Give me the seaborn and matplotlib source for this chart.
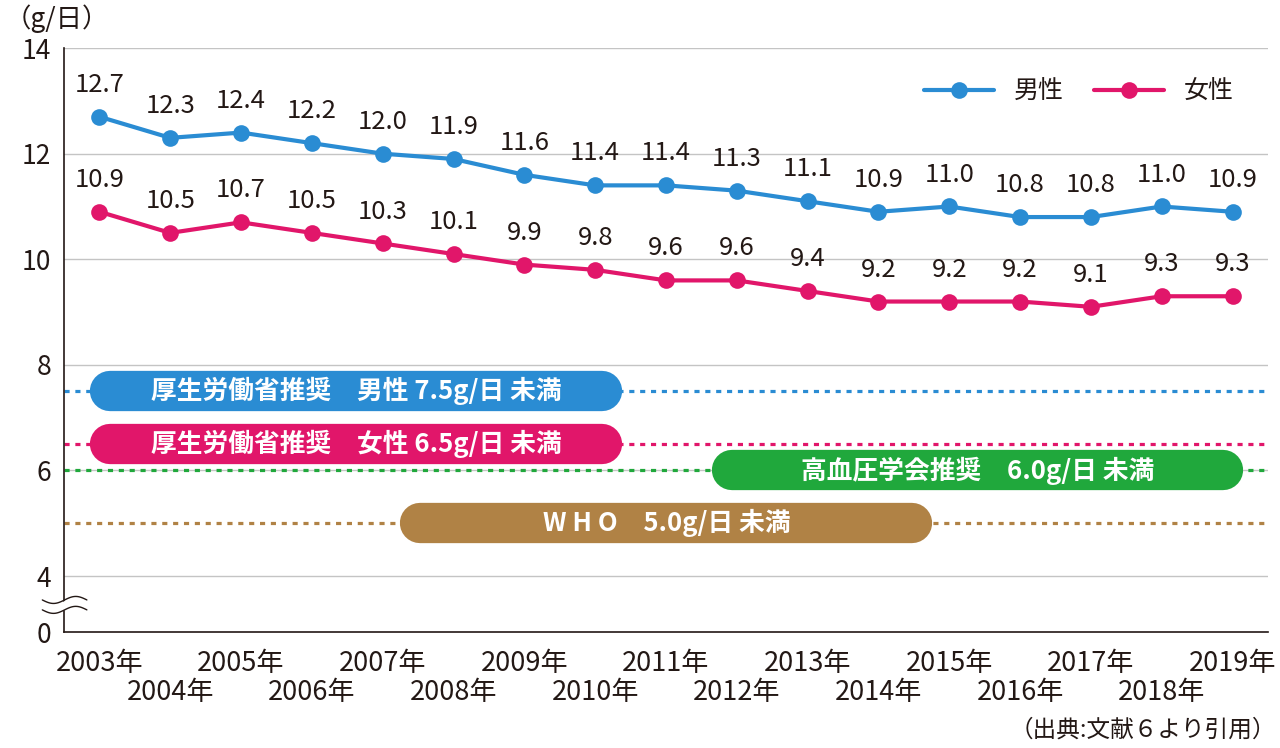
import numpy as np
import pandas as pd
import seaborn as sns
import matplotlib.pyplot as plt

years = list(range(2003, 2020))
men = [12.7, 12.3, 12.4, 12.2, 12.0, 11.9, 11.6, 11.4, 11.4, 11.3, 11.1, 10.9, 11.0, 10.8, 10.8, 11.0, 10.9]
women = [10.9, 10.5, 10.7, 10.5, 10.3, 10.1, 9.9, 9.8, 9.6, 9.6, 9.4, 9.2, 9.2, 9.2, 9.1, 9.3, 9.3]
series_names = ['男性', '女性']

# recommendation lines: value, label, pill start / end (in years)
rec_values = [7.5, 6.5, 6.0, 5.0]
rec_labels = ['厚生労働省推奨　男性 7.5g/日 未満',
              '厚生労働省推奨　女性 6.5g/日 未満',
              '高血圧学会推奨　6.0g/日 未満',
              'W H O　5.0g/日 未満']
rec_start = [2003.15, 2003.15, 2011.93, 2007.53]
rec_end = [2010.1, 2010.1, 2018.86, 2014.48]

BLUE = '#2a8cd3'
PINK = '#e1166a'
GREEN = '#20a83c'
BROWN = '#b08245'
TEXT = '#231815'
rec_colors = [BLUE, PINK, GREEN, BROWN]

sns.set_theme(style='white')
plt.rcParams['font.family'] = ['Noto Sans CJK JP', 'DejaVu Sans']
plt.rcParams['text.color'] = TEXT

df = pd.DataFrame({
    'year': years * 2,
    'value': men + women,
    'sex': [series_names[0]] * len(years) + [series_names[1]] * len(years),
})

fig = plt.figure(figsize=(12.8, 7.48), dpi=100)
ax = fig.add_axes([0.05, 0.155, 0.9406, 0.7807])

ybot = 2.94
ax.set_xlim(2002.5, 2019.5)
ax.set_ylim(ybot, 14)

# grid
for g in [4, 6, 8, 10, 12, 14]:
    ax.axhline(g, color='#c4c4c4', lw=1, zorder=0)

# dotted recommendation lines + pills
for v, lab, x0, x1, c in zip(rec_values, rec_labels, rec_start, rec_end, rec_colors):
    ax.axhline(v, color=c, lw=2.3, ls=(0, (1.6, 1.8)), zorder=1)
    ax.plot([x0, x1], [v, v], color=c, lw=29, solid_capstyle='round', zorder=2)
    ax.text((x0 + x1) / 2, v, lab, color='white', fontsize=18.5, fontweight='bold',
            ha='center', va='center', zorder=3)

sns.lineplot(data=df, x='year', y='value', hue='sex', palette=[BLUE, PINK],
             marker='o', markersize=12, markeredgewidth=0, linewidth=3,
             ax=ax, zorder=4)

for vals in [men, women]:
    for x, v in zip(years, vals):
        ax.annotate(f'{v:.1f}', (x, v), xytext=(0, 23), textcoords='offset points',
                    ha='center', va='center', fontsize=18.5, color=TEXT)

# axes styling
for s in ['top', 'right']:
    ax.spines[s].set_visible(False)
ax.spines['left'].set_color(TEXT)
ax.spines['bottom'].set_color(TEXT)
ax.spines['left'].set_linewidth(1.2)
ax.spines['bottom'].set_linewidth(1.2)

ax.set_yticks([ybot, 4, 6, 8, 10, 12, 14])
ax.set_yticklabels(['0', '4', '6', '8', '10', '12', '14'])
ax.tick_params(axis='y', length=0, pad=9, labelsize=19, labelcolor=TEXT)

ax.set_xticks(years)
ax.set_xticklabels([])
ax.set_xticks([y + 0.5 for y in years], minor=True)
ax.tick_params(axis='x', which='major', length=0)
ax.tick_params(axis='x', which='minor', direction='in', length=18, width=1, color='#555555')
ax.set_xlabel('')
ax.set_ylabel('')

for i, y in enumerate(years):
    ypos = -0.053 if i % 2 == 0 else -0.104
    ax.text(y, ypos, f'{y}年', transform=ax.get_xaxis_transform(),
            ha='center', va='center', fontsize=19.5, color=TEXT)

# axis break mark
xs = np.linspace(-0.018, 0.019, 60)
w = 0.006 * np.sin((xs + 0.018) / 0.037 * 2 * np.pi + np.pi)
ax.fill_between(xs, 0.040 + w, 0.053 + w, color='white', transform=ax.transAxes,
                clip_on=False, zorder=5)
ax.plot(xs, 0.055 + w, color=TEXT, lw=1, transform=ax.transAxes, clip_on=False, zorder=6)
ax.plot(xs, 0.038 + w, color=TEXT, lw=1, transform=ax.transAxes, clip_on=False, zorder=6)

leg = ax.legend(loc='center right', bbox_to_anchor=(0.98, 0.925), ncol=2, frameon=False,
                fontsize=18, handlelength=2.8, handletextpad=0.8, columnspacing=1.2,
                borderaxespad=0)
for t in leg.get_texts():
    t.set_color(TEXT)

fig.text(0.004, 0.975, '（g/日）', fontsize=19, ha='left', va='center', color=TEXT)
fig.text(0.997, 0.024, '（出典:文献６より引用）', fontsize=17, ha='right', va='center', color=TEXT)

fig.savefig('out.png', dpi=100)
